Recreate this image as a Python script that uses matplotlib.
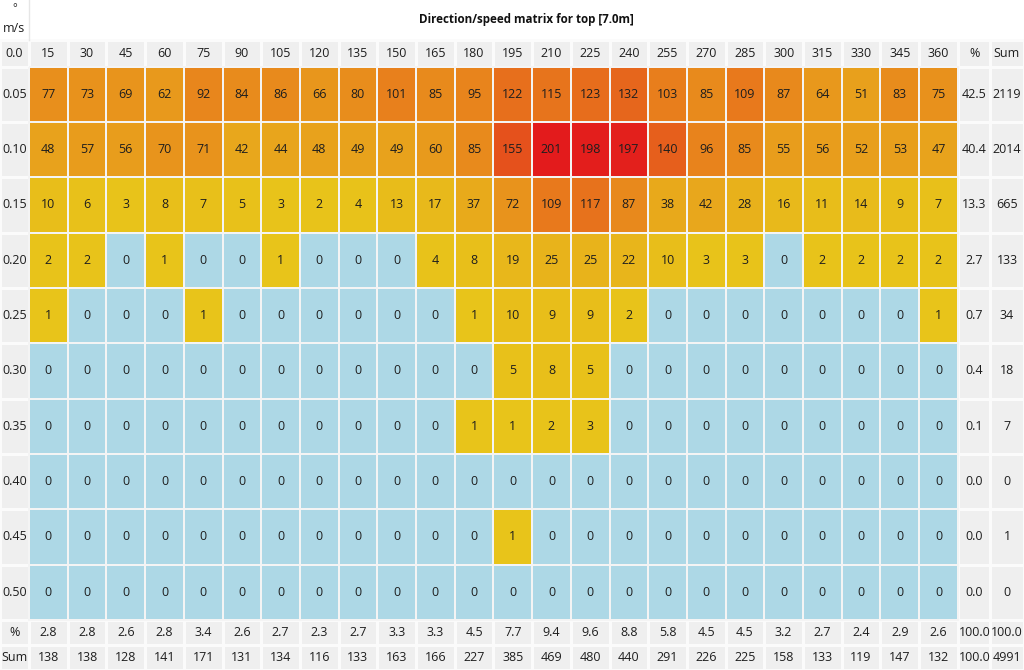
import numpy as np
import matplotlib
matplotlib.use("Agg")
import matplotlib.pyplot as plt
from matplotlib.colors import LinearSegmentedColormap, Normalize

plt.rcParams['font.family'] = ['Open Sans', 'DejaVu Sans']

title = "Direction/speed matrix for top [7.0m]"
directions = [15, 30, 45, 60, 75, 90, 105, 120, 135, 150, 165, 180, 195, 210,
              225, 240, 255, 270, 285, 300, 315, 330, 345, 360]
speeds = ["0.05", "0.10", "0.15", "0.20", "0.25", "0.30", "0.35", "0.40", "0.45", "0.50"]

row_005 = [77, 73, 69, 62, 92, 84, 86, 66, 80, 101, 85, 95, 122, 115, 123, 132, 103, 85, 109, 87, 64, 51, 83, 75]
row_010 = [48, 57, 56, 70, 71, 42, 44, 48, 49, 49, 60, 85, 155, 201, 198, 197, 140, 96, 85, 55, 56, 52, 53, 47]
row_015 = [10, 6, 3, 8, 7, 5, 3, 2, 4, 13, 17, 37, 72, 109, 117, 87, 38, 42, 28, 16, 11, 14, 9, 7]
row_020 = [2, 2, 0, 1, 0, 0, 1, 0, 0, 0, 4, 8, 19, 25, 25, 22, 10, 3, 3, 0, 2, 2, 2, 2]
row_025 = [1, 0, 0, 0, 1, 0, 0, 0, 0, 0, 0, 1, 10, 9, 9, 2, 0, 0, 0, 0, 0, 0, 0, 1]
row_030 = [0, 0, 0, 0, 0, 0, 0, 0, 0, 0, 0, 0, 5, 8, 5, 0, 0, 0, 0, 0, 0, 0, 0, 0]
row_035 = [0, 0, 0, 0, 0, 0, 0, 0, 0, 0, 0, 1, 1, 2, 3, 0, 0, 0, 0, 0, 0, 0, 0, 0]
row_040 = [0] * 24
row_045 = [0, 0, 0, 0, 0, 0, 0, 0, 0, 0, 0, 0, 1, 0, 0, 0, 0, 0, 0, 0, 0, 0, 0, 0]
row_050 = [0] * 24

row_pct = ["42.5", "40.4", "13.3", "2.7", "0.7", "0.4", "0.1", "0.0", "0.0", "0.0"]
row_sum = ["2119", "2014", "665", "133", "34", "18", "7", "0", "1", "0"]

col_pct = ["2.8", "2.8", "2.6", "2.8", "3.4", "2.6", "2.7", "2.3", "2.7", "3.3", "3.3", "4.5",
           "7.7", "9.4", "9.6", "8.8", "5.8", "4.5", "4.5", "3.2", "2.7", "2.4", "2.9", "2.6",
           "100.0", "100.0"]
col_sum = ["138", "138", "128", "141", "171", "131", "134", "116", "133", "163", "166", "227",
           "385", "469", "480", "440", "291", "226", "225", "158", "133", "119", "147", "132",
           "100.0", "4991"]

M = np.array([row_005, row_010, row_015, row_020, row_025, row_030, row_035, row_040, row_045, row_050])

W, H = 1024, 670
fig = plt.figure(figsize=(W / 100, H / 100), dpi=100)
ax = fig.add_axes([0, 0, 1, 1])
ax.set_xlim(0, W)
ax.set_ylim(H, 0)
ax.axis('off')

# layout (pixel units)
x0, cw = 29.0, 38.7
xe = x0 + cw * np.arange(25)
x_edges = np.concatenate([[0], xe, [990, W]])
y0, rh = 66.5, 55.35
ye = y0 + rh * np.arange(11)
y_edges = np.concatenate([[40], ye, [645, H]])

gray = '#efefef'
# background grid for header cells
bg = np.zeros((len(y_edges) - 1, len(x_edges) - 1))
ax.pcolormesh(x_edges, y_edges, bg, cmap=LinearSegmentedColormap.from_list('g', [gray, gray]),
              edgecolors='#fbfbfb', linewidth=1.0)

cmap = LinearSegmentedColormap.from_list('ws', ['#e8c41a', '#e8a01c', '#e8801c', '#e5561c', '#e31b1c'])
cmap.set_bad('#add8e6')
norm = Normalize(vmin=1, vmax=201)
ax.pcolormesh(xe, ye, np.ma.masked_equal(M, 0), cmap=cmap, norm=norm,
              edgecolors='#f4f4f4', linewidth=1.2)

fs = 9
tc = '#1e1e1e'
# title row
ax.text((x0 + W) / 2, 20, title, ha='center', va='center', fontsize=8.4, fontweight='bold', color='#111')
ax.text(14.5, 9, "°", ha='center', va='center', fontsize=8, color=tc)
ax.text(14.5, 29, "m/s", ha='center', va='center', fontsize=fs, color=tc)
ax.plot([x0, x0], [0, 40], color='#e6e6e6', lw=1)

hy = (40 + y0) / 2
ax.text(14.5, hy, "0.0", ha='center', va='center', fontsize=fs, color=tc)
xc = (xe[:-1] + xe[1:]) / 2
for j, d in enumerate(directions):
    ax.text(xc[j], hy, str(d), ha='center', va='center', fontsize=fs, color=tc)
xp = (958.6 + 990) / 2
xs = (990 + W) / 2
ax.text(xp, hy, "%", ha='center', va='center', fontsize=fs, color=tc)
ax.text(xs, hy, "Sum", ha='center', va='center', fontsize=fs, color=tc)

yc = (ye[:-1] + ye[1:]) / 2
for i, s in enumerate(speeds):
    ax.text(14.5, yc[i], s, ha='center', va='center', fontsize=fs, color=tc)
    for j in range(24):
        ax.text(xc[j], yc[i], str(M[i, j]), ha='center', va='center', fontsize=fs, color=tc)
    ax.text(xp, yc[i], row_pct[i], ha='center', va='center', fontsize=fs, color=tc)
    ax.text(xs, yc[i], row_sum[i], ha='center', va='center', fontsize=fs, color=tc)

yp = (ye[-1] + 645) / 2
ysum = (645 + H) / 2
ax.text(14.5, yp, "%", ha='center', va='center', fontsize=fs, color=tc)
ax.text(14.5, ysum, "Sum", ha='center', va='center', fontsize=fs, color=tc)
xcb = list(xc) + [xp, xs]
for j in range(26):
    ax.text(xcb[j], yp, col_pct[j], ha='center', va='center', fontsize=fs, color=tc)
    ax.text(xcb[j], ysum, col_sum[j], ha='center', va='center', fontsize=fs, color=tc)

fig.savefig('out.png', dpi=100, facecolor='white')
